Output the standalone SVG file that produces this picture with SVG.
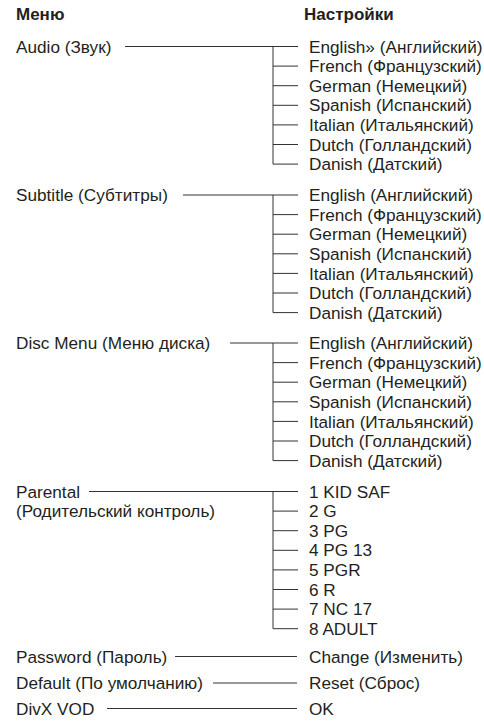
<svg xmlns="http://www.w3.org/2000/svg" width="484" height="721" viewBox="0 0 484 721">
<style>
text{font-family:"Liberation Sans",Arial,sans-serif;font-size:17.2px;fill:#231f20}
.h{font-weight:bold;font-size:17px}
.c line,.c path{stroke:#333;stroke-width:1;fill:none}
</style>
<rect width="484" height="721" fill="#fff"/>
<g id="headers">
<text class="h" x="16" y="19.5">Меню</text>
<text class="h" x="304" y="19.5">Настройки</text>
</g>
<g class="c" id="connectors">
<line x1="125" y1="46.5" x2="298" y2="46.5"/>
<path d="M273 46.5V164.1H298M273 66.1H298M273 85.7H298M273 105.3H298M273 124.9H298M273 144.5H298"/>
<line x1="183" y1="195" x2="298" y2="195"/>
<path d="M273 195V312.6H298M273 214.6H298M273 234.2H298M273 253.8H298M273 273.4H298M273 293H298"/>
<line x1="230" y1="343" x2="298" y2="343"/>
<path d="M273 343V460.6H298M273 362.6H298M273 382.2H298M273 401.8H298M273 421.4H298M273 441H298"/>
<line x1="89" y1="491.5" x2="298" y2="491.5"/>
<path d="M273 491.5V628.7H298M273 511.1H298M273 530.7H298M273 550.3H298M273 569.9H298M273 589.5H298M273 609.1H298"/>
<line x1="175" y1="656.5" x2="297" y2="656.5"/>
<line x1="213" y1="683" x2="297" y2="683"/>
<line x1="107" y1="708.5" x2="297" y2="708.5"/>
</g>
<g id="audio">
<text x="16" y="52.6">Audio (Звук)</text>
<text x="309" y="52.6">English» (Английский)</text>
<text x="309" y="72.2">French (Французский)</text>
<text x="309" y="91.8">German (Немецкий)</text>
<text x="309" y="111.4">Spanish (Испанский)</text>
<text x="309" y="131">Italian (Итальянский)</text>
<text x="309" y="150.6">Dutch (Голландский)</text>
<text x="309" y="170.2">Danish (Датский)</text>
</g>
<g id="subtitle">
<text x="16" y="201.1">Subtitle (Субтитры)</text>
<text x="309" y="201.1">English (Английский)</text>
<text x="309" y="220.7">French (Французский)</text>
<text x="309" y="240.3">German (Немецкий)</text>
<text x="309" y="259.9">Spanish (Испанский)</text>
<text x="309" y="279.5">Italian (Итальянский)</text>
<text x="309" y="299.1">Dutch (Голландский)</text>
<text x="309" y="318.7">Danish (Датский)</text>
</g>
<g id="discmenu">
<text x="16" y="349.1">Disc Menu (Меню диска)</text>
<text x="309" y="349.1">English (Английский)</text>
<text x="309" y="368.7">French (Французский)</text>
<text x="309" y="388.3">German (Немецкий)</text>
<text x="309" y="407.9">Spanish (Испанский)</text>
<text x="309" y="427.5">Italian (Итальянский)</text>
<text x="309" y="447.1">Dutch (Голландский)</text>
<text x="309" y="466.7">Danish (Датский)</text>
</g>
<g id="parental">
<text x="16" y="497.6">Parental</text>
<text x="16" y="517.2">(Родительский контроль)</text>
<text x="309" y="497.6">1 KID SAF</text>
<text x="309" y="517.2">2 G</text>
<text x="309" y="536.8">3 PG</text>
<text x="309" y="556.4">4 PG 13</text>
<text x="309" y="576">5 PGR</text>
<text x="309" y="595.6">6 R</text>
<text x="309" y="615.2">7 NC 17</text>
<text x="309" y="634.8">8 ADULT</text>
</g>
<g id="password">
<text x="16" y="662.6">Password (Пароль)</text>
<text x="309" y="662.6">Change (Изменить)</text>
</g>
<g id="default">
<text x="16" y="689.1">Default (По умолчанию)</text>
<text x="309" y="689.1">Reset (Сброс)</text>
</g>
<g id="divx">
<text x="16" y="714.6">DivX VOD</text>
<text x="309" y="714.6">OK</text>
</g>
</svg>
